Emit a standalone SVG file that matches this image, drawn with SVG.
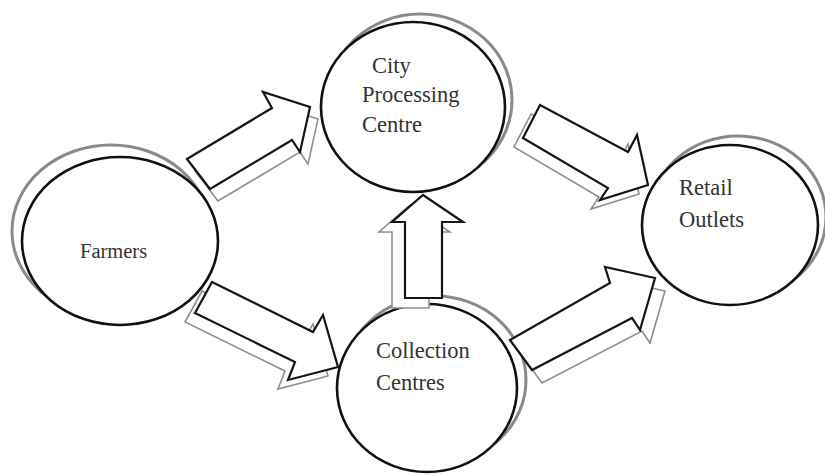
<svg xmlns="http://www.w3.org/2000/svg" width="825" height="474" viewBox="0 0 825 474">
<style>
.bg{fill:#fff}
.sh{fill:#fff;stroke:#8a8a8a;stroke-width:3}
.main{fill:#fff;stroke:#111;stroke-width:2.6}
.ash{fill:#fff;stroke:#8f8f8f;stroke-width:1.6;stroke-linejoin:miter}
.arr{fill:#fff;stroke:#151515;stroke-width:2.2;stroke-linejoin:miter}
.t{font-family:"Liberation Serif","Times New Roman",serif;font-size:22.5px;fill:#333}
</style>
<rect class="bg" x="0" y="0" width="825" height="474"/>
<g id="farmers">
<ellipse class="sh" cx="111" cy="231" rx="99" ry="86"/>
<ellipse class="main" cx="120" cy="241" rx="98" ry="84"/>
<text class="t" x="80" y="258" style="font-size:20.5px">Farmers</text>
</g>
<g id="city">
<ellipse class="sh" cx="420" cy="100" rx="92" ry="86"/>
<ellipse class="main" cx="413" cy="107" rx="92" ry="85"/>
<text class="t" x="372" y="73">City</text>
<text class="t" x="362" y="102">Processing</text>
<text class="t" x="362" y="132">Centre</text>
</g>
<g id="retail">
<ellipse class="sh" cx="738" cy="217" rx="88" ry="81"/>
<ellipse class="main" cx="730" cy="225" rx="88" ry="80"/>
<text class="t" x="679" y="195">Retail</text>
<text class="t" x="679" y="227">Outlets</text>
</g>
<g id="collection">
<ellipse class="sh" cx="435" cy="380" rx="91" ry="84"/>
<ellipse class="main" cx="427" cy="388" rx="90" ry="84"/>
<text class="t" x="376" y="358">Collection</text>
<text class="t" x="376" y="390">Centres</text>
</g>
<g id="connectors">
<g transform="translate(8,12)"><polygon class="ash" points="187,159 272,108 263,92 310,107 300,152 292,140 210,189"/></g>
<polygon class="arr" points="187,159 272,108 263,92 310,107 300,152 292,140 210,189"/>
<g transform="translate(-10,9)"><polygon class="ash" points="212,282 313,332 323,315 338,367 288,380 295,362 195,313"/></g>
<polygon class="arr" points="212,282 313,332 323,315 338,367 288,380 295,362 195,313"/>
<g transform="translate(-9,9)"><polygon class="ash" points="540,105 628,152 637,135 648,185 600,200 608,188 523,138"/></g>
<polygon class="arr" points="540,105 628,152 637,135 648,185 600,200 608,188 523,138"/>
<g transform="translate(10,13)"><polygon class="ash" points="510,340 610,283 605,267 655,278 640,330 632,318 532,370"/></g>
<polygon class="arr" points="510,340 610,283 605,267 655,278 640,330 632,318 532,370"/>
<g transform="translate(-13,10)"><polygon class="ash" points="423,195 463,222 442,222 442,298 405,298 405,222 392,222"/></g>
<polygon class="arr" points="423,195 463,222 442,222 442,298 405,298 405,222 392,222"/>
</g>
</svg>
